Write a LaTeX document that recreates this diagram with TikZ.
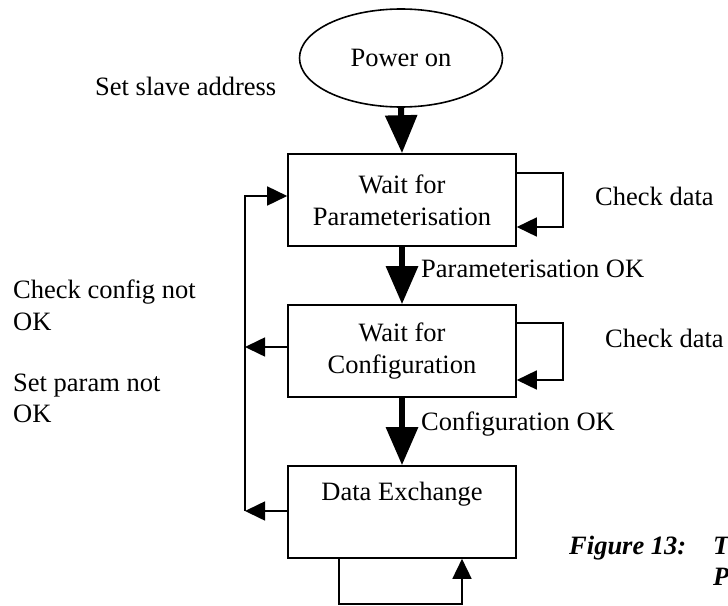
\documentclass[tikz,border=0pt]{standalone}
\usepackage{fontspec}
\setmainfont{Liberation Serif}
\usetikzlibrary{arrows.meta,shapes.geometric}
\begin{document}
\begin{tikzpicture}[x=1pt,y=-1pt,
  every node/.style={font=\fontsize{26.5}{32}\selectfont, inner sep=0pt},
  statebox/.style={draw, line width=1.6pt, minimum width=228pt, minimum height=92pt, align=center},
  startoval/.style={draw, ellipse, line width=1.6pt, minimum width=203pt, minimum height=98pt},
  mainflow/.style={line width=6pt, -{Triangle[length=38pt,width=31pt]}},
  sideflow/.style={line width=1.6pt, -{Triangle[length=20pt,width=19pt]}},
  lbl/.style={anchor=base west},
  caption/.style={anchor=base west, font=\fontsize{26.5}{32}\selectfont\bfseries\itshape}]
\useasboundingbox (0,0) rectangle (728,605);

% states
\node[startoval] (power) at (401,58) {Power on};
\node[statebox] (param) at (402,200) {Wait for\\Parameterisation};
\node[statebox] (config) at (402,351) {Wait for\\Configuration};
\node[statebox] (dx) at (402,512) {Data Exchange\\\strut};

% main transitions
\draw[mainflow] (power.south) -- (param.north);
\draw[mainflow] (param.south) -- (config.north);
\draw[mainflow] (config.south) -- (dx.north);

% self loops
\coordinate (pl1) at (563,173);
\coordinate (pl2) at (563,227);
\draw[sideflow] (param.east |- pl1) -- (pl1) -- (pl2) -- (param.east |- pl2);
\coordinate (cl1) at (563,323);
\coordinate (cl2) at (563,380);
\draw[sideflow] (config.east |- cl1) -- (cl1) -- (cl2) -- (config.east |- cl2);

% error returns
\coordinate (bus) at (245,196);
\coordinate (buscfg) at (245,347);
\coordinate (busdx) at (245,511);
\draw[sideflow] (config.west |- buscfg) -- (buscfg);
\draw[sideflow] (dx.west |- busdx) -- (busdx);
\draw[sideflow] (busdx) -- (bus) -- (param.west |- bus);

% data exchange loop
\coordinate (dl1) at (339,604);
\coordinate (dl2) at (462,604);
\draw[sideflow] (dx.south -| dl1) -- (dl1) -- (dl2) -- (dx.south -| dl2);

% labels
\node[lbl] (tslave) at (95,95) {Set slave address};
\node[lbl] (tchk1) at (595,205) {Check data};
\node[lbl] (tpok) at (421,277) {Parameterisation OK};
\node[lbl] (tccfg1) at (13,298) {Check config not};
\node[lbl] (tccfg2) at (13,330) {OK};
\node[lbl] (tsp1) at (13,391) {Set param not};
\node[lbl] (tsp2) at (13,422) {OK};
\node[lbl] (tchk2) at (605,347) {Check data};
\node[lbl] (tcok) at (421,430) {Configuration OK};

% caption
\node[caption] (fig) at (569,554) {Figure 13:};
\node[caption] (figa) at (713,554) {T};
\node[caption] (figb) at (713,585) {P};
\end{tikzpicture}
\end{document}
